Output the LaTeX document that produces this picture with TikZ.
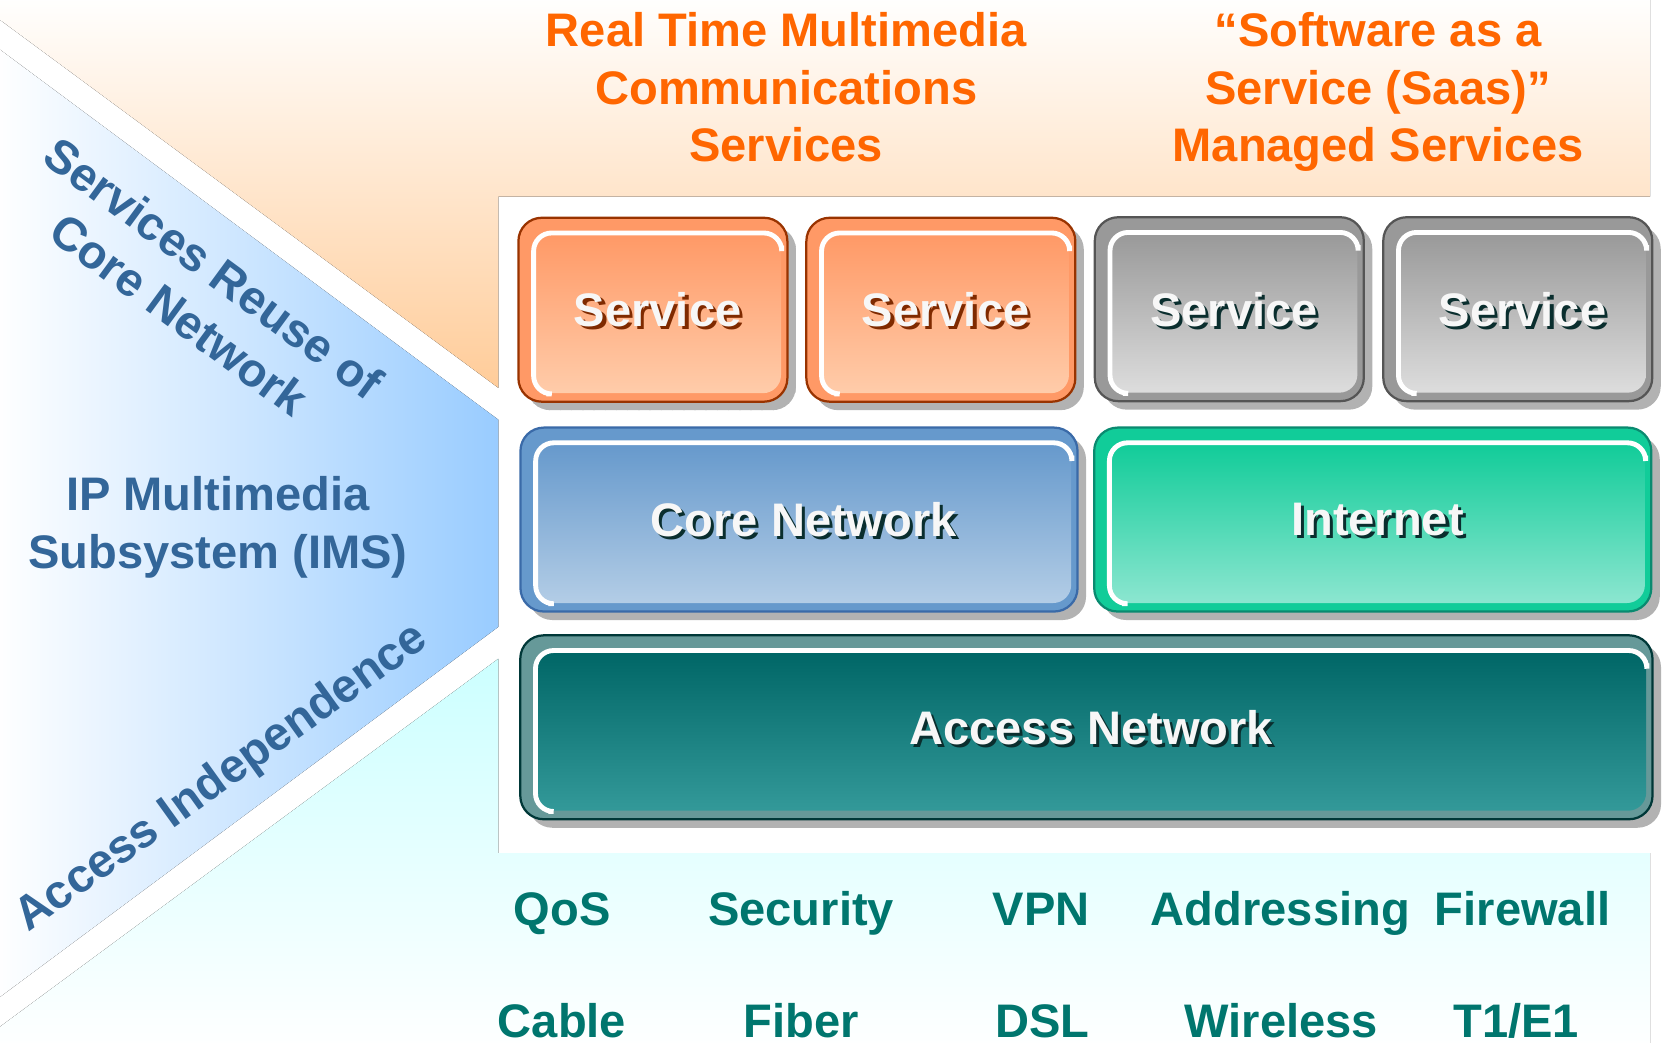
\documentclass[tikz,border=0pt]{standalone}
\usepackage{fontspec}
\setmainfont{Liberation Sans}
\usetikzlibrary{shadows,patterns}
\definecolor{peach}{HTML}{FFCC99}
\definecolor{skyblue}{HTML}{99CCFF}
\definecolor{aqua}{HTML}{CCFFFF}
\definecolor{orgtxt}{HTML}{FF6600}
\definecolor{imstxt}{HTML}{336699}
\definecolor{featxt}{HTML}{00766E}
\definecolor{orgline}{HTML}{993300}
\definecolor{orgband}{HTML}{FF9966}
\definecolor{orglow}{HTML}{FFCCAA}
\definecolor{orgdark}{HTML}{7F2A00}
\definecolor{grayline}{HTML}{555555}
\definecolor{grayband}{HTML}{999999}
\definecolor{graylow}{HTML}{DDDDDD}
\definecolor{coreline}{HTML}{3A6AA8}
\definecolor{coreband}{HTML}{6699CC}
\definecolor{corelow}{HTML}{B3CDE6}
\definecolor{netline}{HTML}{0A8A70}
\definecolor{netband}{HTML}{11CC99}
\definecolor{netlow}{HTML}{8CE6D0}
\definecolor{accline}{HTML}{003838}
\definecolor{accband}{HTML}{669999}
\definecolor{acctop}{HTML}{006666}
\definecolor{acclow}{HTML}{339999}
\definecolor{boxshade}{HTML}{B2B2B2}
\definecolor{txtdark}{HTML}{0A2E2E}

\begin{document}
\begin{tikzpicture}[x=0.01cm, y=-0.01cm,
  every node/.style={font=\bfseries\fontsize{12.6}{15.4}\selectfont, inner sep=0},
  layer/.style={rounded corners=0.22cm, line width=0.6pt},
  shade/.style={drop shadow={shadow xshift=0.08cm, shadow yshift=-0.08cm, fill=boxshade, opacity=1}},
  inlayer/.style={rounded corners=0.17cm},
  hilite/.style={draw=white, line width=1.3pt, rounded corners=0.17cm},
  small/.style={minimum width=2.53cm, minimum height=1.73cm},
  smallin/.style={minimum width=2.32cm, minimum height=1.5cm},
  wide/.style={minimum width=5.24cm, minimum height=1.73cm},
  widein/.style={minimum width=5.03cm, minimum height=1.5cm},
  full/.style={minimum width=10.65cm, minimum height=1.73cm},
  fullin/.style={minimum width=10.44cm, minimum height=1.5cm},
  lbl/.style={text=white!97!black},
  lblsh/.style={text=#1}]
\useasboundingbox (0,0) rectangle (1568,981);
\fill[top color=white, bottom color=peach] (-5,-5) -- (1553,-5) -- (1553,185) -- (469,185) -- (469,365) -- (-5,15) -- cycle;
\fill[left color=white, right color=skyblue] (-5,43) -- (469,395) -- (469,590) -- (-5,942) -- cycle;
\fill[top color=aqua, bottom color=white] (469,620) -- (469,803) -- (1553,803) -- (1553,990) -- (-5,990) -- (-5,970) -- cycle;
\node[anchor=north, align=center, text=orgtxt] (rtmm) at (740,11){Real Time Multimedia\\Communications\\Services};
\node[anchor=north, align=center, text=orgtxt] (saas) at (1297,11){“Software as a\\Service (Saas)”\\Managed Services};
\node[align=center, rotate=-36.3, text=imstxt] (reuse) at (185,274){Services Reuse of\\Core Network};
\node[anchor=north, align=center, text=imstxt] (ims) at (205,448){IP Multimedia\\Subsystem (IMS)};
\node[rotate=35.7, text=imstxt] (indep) at (209,733){Access Independence};
\node[layer, small, fill=boxshade, postaction={pattern=grid, pattern color=black!30}] (svc1sd) at (622.5,299.5){};
\node[layer, small, draw=orgline, fill=orgband] (svc1) at (614.5,291.5){};
\node[inlayer, smallin, top color=orgband, bottom color=orglow] (svc1in) at (619,295){};
\draw[hilite] ([xshift=0.12cm]svc1in.south west) -- (svc1in.south west) -- (svc1in.north west) -- (svc1in.north east) -- ([yshift=-0.12cm]svc1in.north east);
\node[lblsh=orgdark] (svc1sh) at (622,294.5){Service};
\node[lbl] (svc1tx) at (619,291.5){Service};
\node[layer, small, shade, draw=orgline, fill=orgband] (svc2) at (885.5,291.5){};
\node[inlayer, smallin, top color=orgband, bottom color=orglow] (svc2in) at (890,295){};
\draw[hilite] ([xshift=0.12cm]svc2in.south west) -- (svc2in.south west) -- (svc2in.north west) -- (svc2in.north east) -- ([yshift=-0.12cm]svc2in.north east);
\node[lblsh=orgdark] (svc2sh) at (893,294.5){Service};
\node[lbl] (svc2tx) at (890,291.5){Service};
\node[layer, small, shade, draw=grayline, fill=grayband] (svc3) at (1157,291){};
\node[inlayer, smallin, top color=grayband, bottom color=graylow] (svc3in) at (1161.5,294.5){};
\draw[hilite] ([xshift=0.12cm]svc3in.south west) -- (svc3in.south west) -- (svc3in.north west) -- (svc3in.north east) -- ([yshift=-0.12cm]svc3in.north east);
\node[lblsh=txtdark] (svc3sh) at (1164.5,294){Service};
\node[lbl] (svc3tx) at (1161.5,291){Service};
\node[layer, small, shade, draw=grayline, fill=grayband] (svc4) at (1428.5,291){};
\node[inlayer, smallin, top color=grayband, bottom color=graylow] (svc4in) at (1433,294.5){};
\draw[hilite] ([xshift=0.12cm]svc4in.south west) -- (svc4in.south west) -- (svc4in.north west) -- (svc4in.north east) -- ([yshift=-0.12cm]svc4in.north east);
\node[lblsh=txtdark] (svc4sh) at (1436,294){Service};
\node[lbl] (svc4tx) at (1433,291){Service};
\node[layer, wide, shade, draw=coreline, fill=coreband] (core) at (752,489){};
\node[inlayer, widein, top color=coreband, bottom color=corelow] (corein) at (756.5,492.5){};
\draw[hilite] ([xshift=0.12cm]corein.south west) -- (corein.south west) -- (corein.north west) -- (corein.north east) -- ([yshift=-0.12cm]corein.north east);
\node[lblsh=txtdark] (coresh) at (759.5,492){Core Network};
\node[lbl] (coretx) at (756.5,489){Core Network};
\node[layer, wide, shade, draw=netline, fill=netband] (inet) at (1292,489){};
\node[inlayer, widein, top color=netband, bottom color=netlow] (inetin) at (1296.5,492.5){};
\draw[hilite] ([xshift=0.12cm]inetin.south west) -- (inetin.south west) -- (inetin.north west) -- (inetin.north east) -- ([yshift=-0.12cm]inetin.north east);
\node[lblsh=txtdark] (inetsh) at (1299.5,492){Internet};
\node[lbl] (inettx) at (1296.5,489){Internet};
\node[layer, full, shade, draw=accline, fill=accband] (acc) at (1022.5,684.5){};
\node[inlayer, fullin, top color=acctop, bottom color=acclow] (accin) at (1027,688){};
\draw[hilite] ([xshift=0.12cm]accin.south west) -- (accin.south west) -- (accin.north west) -- (accin.north east) -- ([yshift=-0.12cm]accin.north east);
\node[lblsh=txtdark] (accsh) at (1030,687.5){Access Network};
\node[lbl] (acctx) at (1027,684.5){Access Network};
\node[anchor=base, text=featxt] (qos) at (529,871){QoS};
\node[anchor=base, text=featxt] (secur) at (754,871){Security};
\node[anchor=base, text=featxt] (vpn) at (980,871){VPN};
\node[anchor=base, text=featxt] (addr) at (1205,871){Addressing};
\node[anchor=base, text=featxt] (fwall) at (1433,871){Firewall};
\node[anchor=base, text=featxt] (cable) at (529,976){Cable};
\node[anchor=base, text=featxt] (fiber) at (754,976){Fiber};
\node[anchor=base, text=featxt] (dsl) at (981,976){DSL};
\node[anchor=base, text=featxt] (wless) at (1206,976){Wireless};
\node[anchor=base, text=featxt] (tone) at (1427,976){T1/E1};
\end{tikzpicture}
\end{document}
